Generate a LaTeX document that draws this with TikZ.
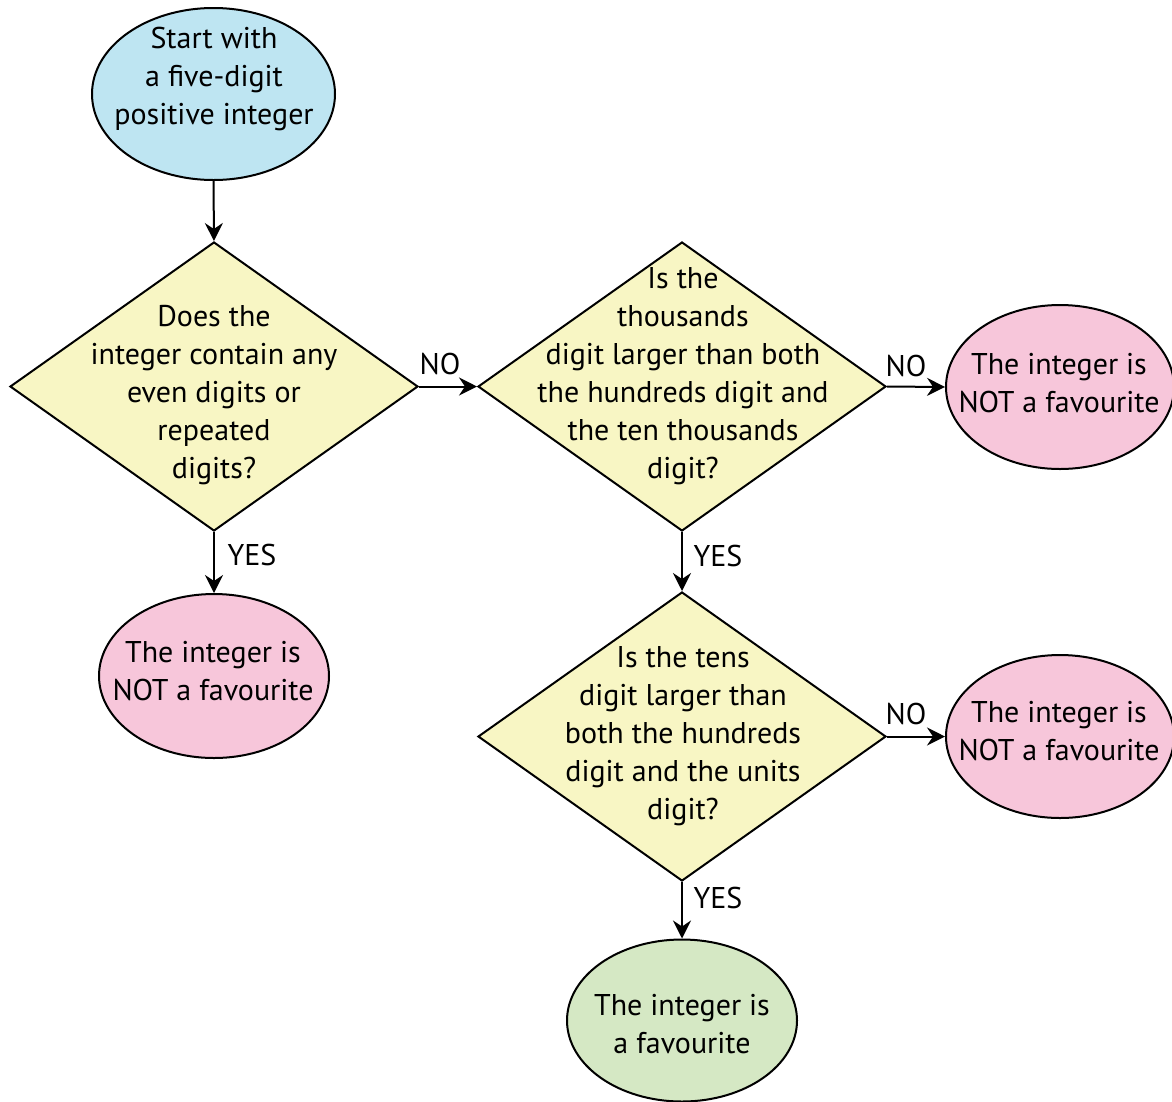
\documentclass[tikz,border=0pt]{standalone}
\usepackage{fontspec}
\setmainfont{PT Sans}
\usetikzlibrary{shapes.geometric,arrows.meta}
\definecolor{cblue}{RGB}{190,229,242}
\definecolor{cyellow}{RGB}{248,246,196}
\definecolor{cpink}{RGB}{247,198,218}
\definecolor{cgreen}{RGB}{213,232,196}
\begin{document}
\begin{tikzpicture}[x=1pt,y=-1pt,
  dia/.style={draw, line width=2pt, fill=cyellow, shape=diamond, minimum width=408pt, minimum height=289pt, inner sep=0pt},
  ell/.style={draw, line width=2pt, shape=ellipse, inner sep=0pt},
  txt/.style={font=\fontsize{30}{38}\selectfont, align=center, inner sep=0pt},
  lab/.style={font=\fontsize{30}{34}\selectfont, inner sep=0pt},
  arr/.style={line width=2pt, -{Stealth[length=18pt,width=18pt,inset=6pt]}}]
\useasboundingbox (0,0) rectangle (1172,1101);
\fill[white] (0,0) rectangle (1172,1101);
% shapes
\node[ell, fill=cblue, minimum width=243pt, minimum height=172pt] (start) at (213.5,94) {};
\node[dia] (d1) at (214,386.5) {};
\node[dia] (d2) at (682,386.5) {};
\node[dia] (d3) at (682,736.5) {};
\node[ell, fill=cpink, minimum width=230pt, minimum height=164pt] (p1) at (214,676) {};
\node[ell, fill=cpink, minimum width=228pt, minimum height=164pt] (p2) at (1060,387) {};
\node[ell, fill=cpink, minimum width=228pt, minimum height=163pt] (p3) at (1060,736.5) {};
\node[ell, fill=cgreen, minimum width=230pt, minimum height=162pt] (fav) at (682,1020.5) {};
% texts
\node[txt] (startt) at (214,79) {Start with\\a five-digit\\positive integer};
\node[txt] (d1t) at (214,395.5) {Does the\\integer contain any\\even digits or\\repeated\\digits?};
\node[txt] (d2t) at (683,376.5) {Is the\\thousands\\digit larger than both\\the hundreds digit and\\the ten thousands\\digit?};
\node[txt] (d3t) at (683,736.5) {Is the tens\\digit larger than\\both the hundreds\\digit and the units\\digit?};
\node[txt] (p1t) at (213,671) {The integer is\\NOT a favourite};
\node[txt] (p2t) at (1059,383) {The integer is\\NOT a favourite};
\node[txt] (p3t) at (1059,731) {The integer is\\NOT a favourite};
\node[txt] (favt) at (682,1024) {The integer is\\a favourite};
% connectors
\draw[arr] (start.south) -- (d1.north);
\draw[arr] (d1.south) -- (p1.north);
\draw[arr] (d1.east) -- (d2.west);
\draw[arr] (d2.east) -- (p2.west);
\draw[arr] (d2.south) -- (d3.north);
\draw[arr] (d3.east) -- (p3.west);
\draw[arr] (d3.south) -- (fav.north);
% labels
\node[lab] (l1) at (252,555) {YES};
\node[lab] (l2) at (440,364) {NO};
\node[lab] (l3) at (906,366) {NO};
\node[lab] (l4) at (718,556) {YES};
\node[lab] (l5) at (906,714) {NO};
\node[lab] (l6) at (718,898) {YES};
\end{tikzpicture}
\end{document}
